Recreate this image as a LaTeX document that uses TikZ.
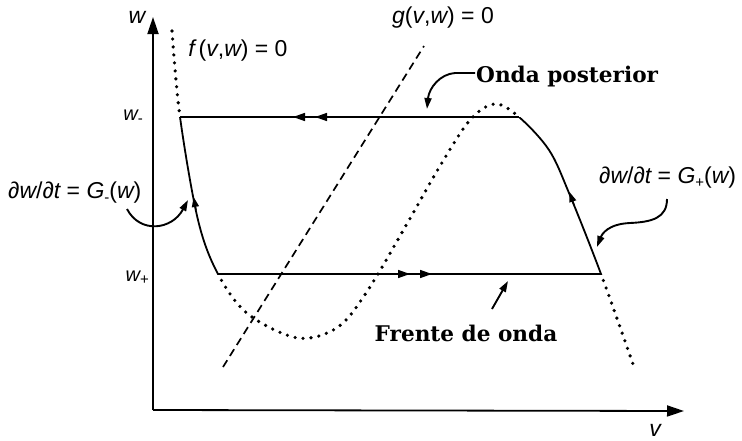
\documentclass[tikz,border=0pt]{standalone}
\usepackage{fontspec}
\setmainfont{Liberation Sans}
\newfontfamily\labelserif{DejaVu Serif}
\usetikzlibrary{arrows.meta,decorations.markings}
\tikzset{
  axis/.style={line width=1.8pt,-{Triangle[length=17pt,width=11pt]}},
  traj/.style={line width=1.5pt},
  branch/.style={line width=1.8pt},
  nullf/.style={line width=3.6pt,line cap=round,dash pattern=on 0pt off 8pt},
  nullg/.style={line width=1.7pt,dash pattern=on 8pt off 5pt},
  mlabel/.style={font=\fontsize{23}{26}\selectfont,inner sep=0pt},
  wlabel/.style={font=\fontsize{20}{23}\selectfont,inner sep=0pt},
  tlabel/.style={font=\labelserif\bfseries\fontsize{21.6}{25}\selectfont,inner sep=0pt},
  callout/.style={line width=1.9pt,-{Triangle[length=11pt,width=7pt]}},
  tip/.style={-{Triangle[length=10pt,width=7pt]}},
  dbl/.style={postaction={decorate,decoration={markings,
    mark=at position #1 with {\arrow{Triangle[length=12pt,width=8pt]}},
    mark=at position #1+22pt with {\arrow{Triangle[length=12pt,width=8pt]}}}}}
}
\begin{document}
\begin{tikzpicture}[x=1pt,y=-1pt]
\useasboundingbox (0,0) rectangle (742,440);
% axes
\coordinate (O) at (153,410);
\coordinate (ytip) at (153,17);
\coordinate (xtip) at (684,411);
\draw[axis] (O) -- (ytip);
\draw[axis] (O) -- (xtip);
\node[mlabel] (wax) at (137,17) {\itshape w};
\node[mlabel] (vax) at (655,430) {\itshape v};
% key points
\coordinate (wmL) at (180,117);
\coordinate (wmR) at (519,117);
\coordinate (wpL) at (218,274);
\coordinate (wpR) at (601,274);
% cubic nullcline
\def\cubicpts{(172,31) (180,117) (198,220) (218,274) (248,314) (298,338) (338,327) (368,290) (408,222) (440,166) (470,120) (495,104) (519,117) (549,150) (569,193) (601,274) (634,367)}
% dotted parts
\begin{scope}
\clip (0,0) rectangle (742,114);
\draw[nullf] plot[smooth,tension=0.55] coordinates {\cubicpts};
\end{scope}
\begin{scope}
\clip (260,114) rectangle (505,277);
\draw[nullf] plot[smooth,tension=0.55] coordinates {\cubicpts};
\end{scope}
\begin{scope}
\clip (0,277) rectangle (742,440);
\draw[nullf] plot[smooth,tension=0.55] coordinates {\cubicpts};
\end{scope}
% solid branches on the cubic
\begin{scope}
\clip (150,117) rectangle (260,274);
\draw[branch] plot[smooth,tension=0.55] coordinates {\cubicpts};
\end{scope}
\begin{scope}
\clip (505,117) rectangle (640,274);
\draw[branch] plot[smooth,tension=0.55] coordinates {\cubicpts};
\end{scope}
% g nullcline
\coordinate (gA) at (223,367);
\coordinate (gB) at (424,46);
\draw[nullg] (gA) -- (gB);
% horizontal trajectories
\draw[traj,dbl=204pt] (wmR) -- (wmL);
\draw[traj,dbl=192pt] (wpL) -- (wpR);
% branch arrows
\coordinate (la1) at (196,210);
\coordinate (la2) at (193.6,197);
\draw[tip,line width=1.5pt] (la1) -- (la2);
\coordinate (ra1) at (574,205);
\coordinate (ra2) at (569.5,192);
\draw[tip,line width=1.5pt] (ra1) -- (ra2);
% labels
\node[mlabel] (flab) at (238,51) {\itshape f\upshape\,(\itshape v\upshape,\itshape w\upshape) = 0};
\node[mlabel] (glab) at (443,18) {\itshape g\upshape(\itshape v\upshape,\itshape w\upshape) = 0};
\node[wlabel,anchor=east] (wm) at (143,117) {\itshape w\upshape\raisebox{-0.3ex}{\fontsize{15}{15}\selectfont -}};
\node[wlabel,anchor=east] (wp) at (149,278) {\itshape w\upshape\raisebox{-0.3ex}{\fontsize{15}{15}\selectfont +}};
\node[mlabel,anchor=west] (gm) at (8,193) {∂\itshape w\upshape/∂\itshape t\upshape{} = \itshape G\upshape\raisebox{-0.3ex}{\fontsize{15}{15}\selectfont -}(\itshape w\upshape)};
\node[mlabel,anchor=west] (gp) at (599,178) {∂\itshape w\upshape/∂\itshape t\upshape{} = \itshape G\upshape\raisebox{-0.3ex}{\fontsize{15}{15}\selectfont +}(\itshape w\upshape)};
\node[tlabel,anchor=west] (onda) at (476,77) {Onda posterior};
\node[tlabel] (frente) at (466,333) {Frente de onda};
% callouts
\coordinate (gmS) at (127,209);
\coordinate (gmT) at (188,200);
\draw[callout] (gmS) .. controls (140,234) and (172,230) .. (gmT);
\coordinate (gpS) at (667,199);
\coordinate (gpM) at (630,223);
\coordinate (gpT) at (597,247);
\draw[callout] (gpS) .. controls (667,218) and (652,222) .. (gpM) .. controls (608,224) and (602,234) .. (gpT);
\coordinate (onS) at (475,73);
\coordinate (onT) at (427,109);
\draw[callout] (onS) -- (455,73) .. controls (440,74) and (429,88) .. (onT);
\coordinate (frS) at (492,309);
\coordinate (frT) at (508,281);
\draw[callout] (frS) -- (frT);
\end{tikzpicture}
\end{document}
